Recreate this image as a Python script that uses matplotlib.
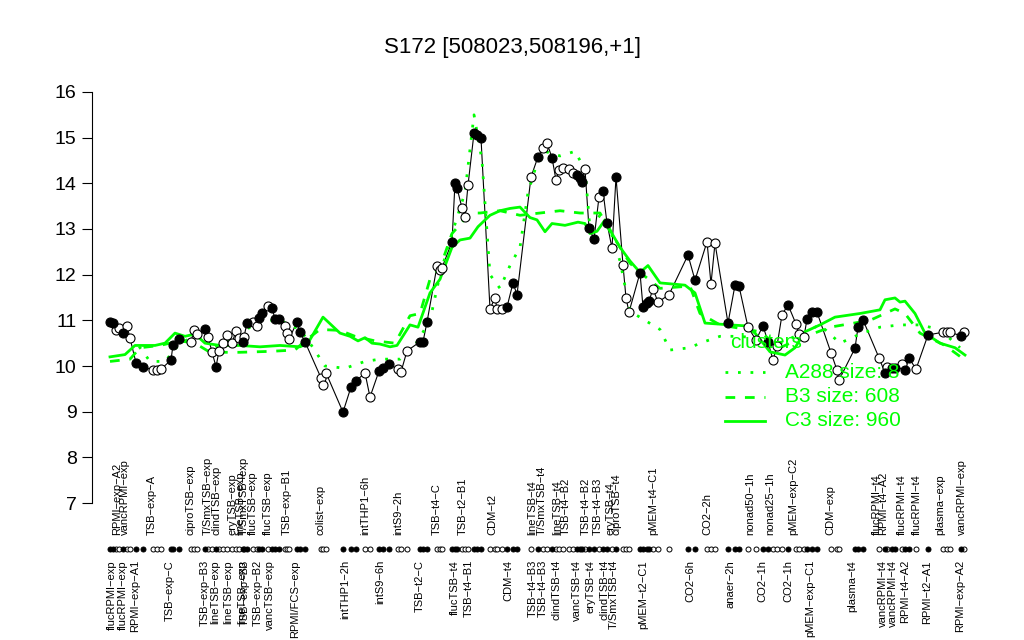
import matplotlib
matplotlib.use("Agg")
import matplotlib.pyplot as plt
from matplotlib.lines import Line2D
import matplotlib.transforms as mtransforms

plt.rcParams['font.family'] = ['Liberation Sans', 'DejaVu Sans']

# ---------------- data ----------------
pos = [110, 113, 116, 119, 123, 127, 130, 136, 143, 153, 157, 161, 171, 173, 179,
       191, 194, 197, 205, 208, 212, 216, 219, 223, 227, 232, 236, 239, 243, 244,
       247, 253, 257, 259, 262, 268, 272, 275, 279, 285, 287, 289, 297, 300, 305,
       321, 323, 326, 343, 351, 356, 365, 370, 379, 383, 389, 398, 401, 407, 420,
       423, 427, 437, 440, 442, 452, 455, 457, 462, 465, 468, 474, 477, 481, 490,
       495, 497, 502, 507, 513, 517, 531, 538, 543, 547, 552, 556, 559, 563, 569,
       573, 577, 580, 582, 585, 589, 594, 599, 603, 607, 612, 616, 623, 626, 629,
       640, 643, 647, 649, 653, 658, 669, 688, 695, 707, 711, 715, 728, 735, 739,
       748, 756, 763, 768, 773, 777, 782, 788, 796, 799, 804, 807, 812, 817, 831,
       837, 839, 855, 858, 863, 879, 885, 887, 892, 895, 902, 905, 909, 916, 928,
       943, 947, 950, 961, 964]
values = [10.96, 10.94, 10.79, 10.83, 10.72, 10.88, 10.61, 10.07, 9.98, 9.91, 9.91, 9.93, 10.13, 10.46, 10.59,
          10.53, 10.79, 10.70, 10.81, 10.64, 10.31, 9.98, 10.33, 10.50, 10.68, 10.50, 10.77, 10.61, 10.53, 10.64,
          10.94, 10.96, 10.88, 11.05, 11.16, 11.31, 11.27, 11.03, 11.03, 10.88, 10.72, 10.59, 10.96, 10.74, 10.53,
          9.74, 9.58, 9.85, 8.99, 9.54, 9.67, 9.85, 9.32, 9.89, 9.96, 10.04, 9.93, 9.87, 10.33, 10.53,
          10.53, 10.96, 12.19, 12.10, 12.15, 12.72, 14.01, 13.90, 13.46, 13.26, 13.96, 15.10, 15.06, 14.99, 11.25,
          11.49, 11.25, 11.25, 11.29, 11.82, 11.56, 14.14, 14.58, 14.77, 14.88, 14.56, 14.07, 14.29, 14.34, 14.31,
          14.23, 14.18, 14.12, 14.03, 14.31, 13.02, 12.78, 13.70, 13.83, 13.13, 12.58, 14.14, 12.21, 11.49, 11.18,
          12.04, 11.29, 11.38, 11.42, 11.69, 11.40, 11.56, 12.43, 11.88, 12.72, 11.80, 12.69, 10.94, 11.77, 11.75,
          10.85, 10.57, 10.88, 10.53, 10.13, 10.44, 11.12, 11.34, 10.92, 10.70, 10.64, 11.03, 11.18, 11.18, 10.29,
          9.91, 9.69, 10.39, 10.85, 11.01, 10.18, 9.85, 9.98, 9.96, 9.96, 10.04, 9.91, 10.18, 9.93, 10.68,
          10.74, 10.74, 10.74, 10.66, 10.74]
filled = [1, 1, 0, 0, 1, 0, 0, 1, 1, 0, 0, 0, 1, 1, 1,
          0, 0, 0, 1, 0, 0, 1, 0, 0, 0, 0, 0, 0, 1, 0,
          1, 0, 0, 1, 1, 0, 1, 1, 1, 0, 0, 0, 1, 1, 1,
          0, 0, 0, 1, 1, 1, 0, 0, 1, 1, 1, 0, 0, 0, 1,
          1, 1, 0, 0, 0, 1, 1, 1, 0, 0, 0, 1, 1, 1, 0,
          0, 0, 0, 1, 1, 1, 0, 1, 0, 0, 1, 0, 0, 0, 0,
          0, 1, 1, 1, 0, 1, 1, 0, 1, 1, 0, 1, 0, 0, 0,
          1, 1, 1, 1, 0, 0, 0, 1, 1, 0, 0, 0, 1, 1, 1,
          0, 0, 1, 1, 0, 0, 0, 1, 0, 0, 0, 1, 1, 1, 0,
          0, 0, 1, 1, 1, 0, 1, 0, 1, 1, 0, 1, 1, 0, 1,
          0, 0, 0, 1, 0]

c3_pos = [110, 125, 135, 155, 165, 175, 185, 195, 205, 220, 240, 260, 280, 300, 308,
          323, 340, 350, 358, 365, 372, 380, 390, 397, 410, 418, 430, 440, 452, 460,
          470, 478, 490, 500, 510, 520, 530, 537, 545, 552, 565, 578, 585, 590, 597,
          605, 612, 620, 630, 640, 648, 660, 685, 695, 705, 730, 745, 755, 770, 785,
          795, 805, 820, 835, 860, 880, 885, 895, 900, 905, 915, 925, 940, 955, 965]
c3_val = [10.20, 10.25, 10.45, 10.45, 10.50, 10.72, 10.65, 10.70, 10.50, 10.45, 10.45, 10.42, 10.45, 10.42, 10.50,
          11.07, 10.72, 10.65, 10.55, 10.62, 10.50, 10.48, 10.42, 10.45, 10.90, 10.85, 11.60, 11.90, 12.60, 12.76,
          12.80, 13.05, 13.30, 13.40, 13.45, 13.48, 13.25, 13.20, 12.94, 13.12, 13.08, 13.15, 13.12, 12.90, 12.95,
          13.20, 12.90, 12.60, 12.30, 12.05, 12.20, 11.82, 11.77, 11.60, 10.94, 10.90, 10.88, 10.72, 10.31, 10.24,
          10.40, 10.75, 10.90, 11.07, 11.15, 11.23, 11.45, 11.49, 11.40, 11.42, 11.15, 10.72, 10.50, 10.40, 10.24]

b3_pos = [110, 130, 140, 160, 180, 195, 210, 240, 270, 295, 305, 320, 340, 355, 375,
          395, 410, 420, 430, 440, 452, 470, 480, 500, 520, 540, 560, 580, 600, 610,
          620, 630, 640, 660, 690, 700, 720, 760, 780, 800, 830, 870, 885, 895, 905,
          920, 945, 965]
b3_val = [10.10, 10.15, 10.40, 10.45, 10.55, 10.50, 10.30, 10.30, 10.32, 10.35, 10.55, 10.80, 10.78, 10.65, 10.55,
          10.50, 11.10, 11.15, 11.90, 12.15, 12.90, 13.35, 13.35, 13.40, 13.30, 13.35, 13.40, 13.35, 13.35, 12.95,
          12.60, 12.25, 12.05, 11.70, 11.75, 11.15, 10.90, 10.75, 10.40, 10.60, 10.85, 11.00, 11.15, 11.25, 11.15,
          10.72, 10.45, 10.13]

a288_pos = [110, 130, 150, 165, 180, 200, 215, 240, 260, 280, 300, 310, 325, 345, 365,
            380, 400, 415, 430, 440, 452, 465, 474, 482, 490, 500, 510, 520, 528, 535,
            545, 560, 575, 585, 590, 600, 610, 620, 630, 645, 660, 670, 690, 700, 720,
            740, 760, 780, 800, 820, 840, 860, 880, 900, 920, 940, 960]
a288_val = [10.90, 10.70, 10.10, 10.10, 10.50, 10.70, 10.40, 10.70, 11.00, 11.00, 10.80, 10.50, 10.00, 9.95, 10.10,
            10.15, 10.15, 10.45, 11.00, 12.00, 12.90, 13.80, 15.50, 14.50, 12.00, 11.70, 12.20, 12.60, 13.80, 14.30,
            14.70, 14.60, 14.70, 14.30, 13.00, 13.30, 13.00, 12.30, 11.20, 11.00, 10.80, 10.35, 10.40, 10.50, 10.65,
            10.65, 10.60, 10.50, 10.70, 10.90, 10.50, 10.70, 10.85, 10.90, 10.90, 10.80, 10.40]

top_tick_pos = [117, 125, 152, 190, 208, 216, 232, 240, 244, 253, 268, 287, 320, 365,
                398, 437, 463, 492, 532, 542, 557, 566, 586, 598, 610, 617, 653,
                707, 750, 770, 793, 830, 877, 883, 902, 917, 940, 962]
top_tick_labels = ['RPMI\u2212exp\u2212A2', 'vancRPMI\u2212exp', 'TSB\u2212exp\u2212A', 'ciproTSB\u2212exp',
                   'T/SmxTSB\u2212exp', 'clindTSB\u2212exp', 'eryTSB\u2212exp', 'lineTSB\u2212exp',
                   'T/SmxTSB\u2212exp', 'flucTSB\u2212exp', 'flucTSB\u2212exp', 'TSB\u2212exp\u2212B1',
                   'colist\u2212exp', 'intTHP1\u22126h', 'intS9\u22122h', 'TSB\u2212t4\u2212C', 'TSB\u2212t2\u2212B1',
                   'CDM\u2212t2', 'lineTSB\u2212t4', 'T/SmxTSB\u2212t4', 'lineTSB\u2212t4', 'TSB\u2212t4\u2212B2',
                   'TSB\u2212t4\u2212B2', 'TSB\u2212t4\u2212B3', 'eryTSB\u2212t4', 'ciproTSB\u2212t4',
                   'pMEM\u2212t4\u2212C1', 'CO2\u22122h', 'nonad50\u22121h', 'nonad25\u22121h', 'pMEM\u2212exp\u2212C2',
                   'CDM\u2212exp', 'flucRPMI\u2212t4', 'RPMI\u2212t4\u2212A2', 'flucRPMI\u2212t4', 'flucRPMI\u2212t4',
                   'plasma\u2212exp', 'vancRPMI\u2212exp']

bottom_tick_pos = [112, 123, 135, 170, 205, 215, 228, 242, 245, 258, 270, 295, 345, 380,
                   420, 455, 469, 508, 533, 543, 557, 577, 590, 604, 614, 643,
                   690, 730, 762, 788, 810, 852, 883, 893, 905, 927, 960]
bottom_tick_labels = ['flucRPMI\u2212exp', 'flucRPMI\u2212exp', 'RPMI\u2212exp\u2212A1', 'TSB\u2212exp\u2212C',
                      'TSB\u2212exp\u2212B3', 'lineTSB\u2212exp', 'lineTSB\u2212exp', 'lineTSB\u2212exp',
                      'TSB\u2212exp\u2212B3', 'TSB\u2212exp\u2212B2', 'vancTSB\u2212exp', 'RPMI/FCS\u2212exp',
                      'intTHP1\u22122h', 'intS9\u22126h', 'TSB\u2212t2\u2212C', 'flucTSB\u2212t4', 'TSB\u2212t4\u2212B1',
                      'CDM\u2212t4', 'TSB\u2212t4\u2212B3', 'TSB\u2212t4\u2212B3', 'clindTSB\u2212t4', 'vancTSB\u2212t4',
                      'eryTSB\u2212t4', 'clindTSB\u2212t4', 'T/SmxTSB\u2212t4', 'pMEM\u2212t2\u2212C1',
                      'CO2\u22126h', 'anaer\u22122h', 'CO2\u22121h', 'CO2\u22121h', 'pMEM\u2212exp\u2212C1',
                      'plasma\u2212t4', 'vancRPMI\u2212t4', 'vancRPMI\u2212t4', 'RPMI\u2212t4\u2212A2',
                      'RPMI\u2212t2\u2212A1', 'RPMI\u2212exp\u2212A2']

legend_labels = ['A288 size: 8', 'B3 size: 608', 'C3 size: 960']
title = 'S172 [508023,508196,+1]'
yticks = [7, 8, 9, 10, 11, 12, 13, 14, 15, 16]

# ---------------- drawing ----------------
W, H = 1024, 640
GREEN = '#00FF00'
fig = plt.figure(figsize=(W / 100, H / 100), dpi=100)
ax = fig.add_axes([92 / W, 1 - 519 / H, 890 / W, 443 / H])
ax.set_xlim(92, 982)
ax.set_ylim(7 - 16 / 45.667, 16 + 16 / 45.667)

# black connecting line
ax.plot(pos, values, color='black', lw=0.8, zorder=3)

# cluster lines
ax.plot(a288_pos, a288_val, color=GREEN, lw=2, linestyle=(0, (1, 3.5)), zorder=4)
ax.plot(b3_pos, b3_val, color=GREEN, lw=2, linestyle=(0, (3.5, 3.5)), zorder=4)
ax.plot(c3_pos, c3_val, color=GREEN, lw=2, linestyle='-', zorder=4)

fx = [p for p, f in zip(pos, filled) if f]
fy = [v for v, f in zip(values, filled) if f]
ox = [p for p, f in zip(pos, filled) if not f]
oy = [v for v, f in zip(values, filled) if not f]
ax.plot(ox, oy, 'o', ms=6.5, mfc='white', mec='black', mew=0.8, zorder=5)
ax.plot(fx, fy, 'o', ms=6.5, mfc='black', mec='black', mew=0.8, zorder=5)

# strip of markers below the plot
trans = mtransforms.blended_transform_factory(ax.transData, ax.transAxes)
strip_y = (519 - 549) / 443
ax.plot(ox, [strip_y] * len(ox), 'o', ms=3.6, mfc='white', mec='black', mew=0.7,
        transform=trans, clip_on=False)
ax.plot(fx, [strip_y] * len(fx), 'o', ms=3.6, mfc='black', mec='black', mew=0.7,
        transform=trans, clip_on=False)

# x labels (two rows)
for p, lab in zip(top_tick_pos, top_tick_labels):
    ax.text(p, (519 - 535) / 443, lab, rotation=90, ha='center', va='bottom',
            fontsize=8, transform=trans, clip_on=False)
for p, lab in zip(bottom_tick_pos, bottom_tick_labels):
    ax.text(p, (519 - 560) / 443, lab, rotation=90, ha='center', va='top',
            fontsize=8, transform=trans, clip_on=False)

# axes styling
for s in ['top', 'right', 'bottom']:
    ax.spines[s].set_visible(False)
ax.spines['left'].set_bounds(7, 16)
ax.spines['left'].set_linewidth(0.8)
ax.set_yticks(yticks)
ax.set_yticklabels([str(t) for t in yticks], fontsize=14)
ax.tick_params(axis='y', length=7, width=0.8, pad=4)
ax.set_xticks([])

fig.text(512 / W, 1 - 47 / H, title, ha='center', va='center', fontsize=16)

# legend (drawn manually, no frame)
def fxp(x):
    return x / W

def fyp(y):
    return 1 - y / H

fig.text(fxp(766), fyp(343), 'clusters', color=GREEN, fontsize=15, ha='center', va='center', zorder=1)
styles = [(0, (1, 3.5)), (0, (3.5, 3.5)), '-']
rows = [372, 397, 421]
for lab, st, yy in zip(legend_labels, styles, rows):
    fig.lines.append(Line2D([fxp(725), fxp(765)], [fyp(yy), fyp(yy)], color=GREEN, lw=2,
                            linestyle=st, transform=fig.transFigure))
    fig.text(fxp(785), fyp(yy), lab, color=GREEN, fontsize=15, ha='left', va='center')

fig.savefig('out.png', dpi=100)
